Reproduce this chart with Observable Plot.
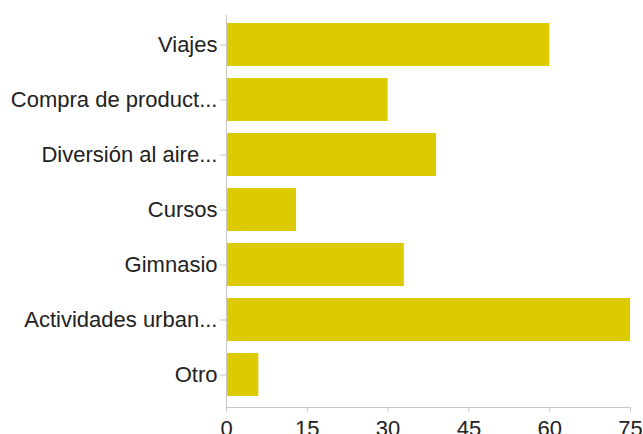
<!DOCTYPE html>
<html>
<head>
<meta charset="utf-8">
<script src="https://cdn.jsdelivr.net/npm/d3@7"></script>
<script src="https://cdn.jsdelivr.net/npm/@observablehq/plot@0.6"></script>
<style>
  html, body { margin: 0; padding: 0; background: white; }
</style>
</head>
<body>
<div id="chart"></div>
<script>
const categories = ["Viajes", "Compra de product...", "Diversión al aire...", "Cursos", "Gimnasio", "Actividades urban...", "Otro"];
const values = [60, 30, 39, 13, 33, 75, 6];
const xTicks = [0, 15, 30, 45, 60, 75];

const data = categories.map((c, i) => ({category: c, value: values[i]}));

const chart = Plot.plot({
  width: 643,
  height: 434,
  marginLeft: 226,
  marginRight: 13,
  marginTop: 15,
  marginBottom: 27,
  style: {fontFamily: "'Liberation Sans', Arial, sans-serif", fontSize: "22px", color: "#222", background: "white", overflow: "visible"},
  x: {domain: [0, 75], ticks: xTicks},
  y: {domain: categories, paddingInner: 0.21, paddingOuter: 0.105, insetBottom: 2},
  marks: [
    Plot.barX(data, {x: "value", y: "category", fill: "#dccb00"}),
    Plot.ruleX([0], {stroke: "#c8c8c8", strokeWidth: 1.2}),
    Plot.frame({anchor: "bottom", stroke: "#c8c8c8", strokeWidth: 1.2}),
    Plot.axisX({ticks: xTicks, tickSize: 5, tickPadding: 8, stroke: "#c8c8c8", fill: "#222", label: null}),
    Plot.axisY({tickSize: 6, tickPadding: 3, stroke: "#c8c8c8", fill: "#222", label: null})
  ]
});
document.getElementById("chart").appendChild(chart);
</script>
</body>
</html>
